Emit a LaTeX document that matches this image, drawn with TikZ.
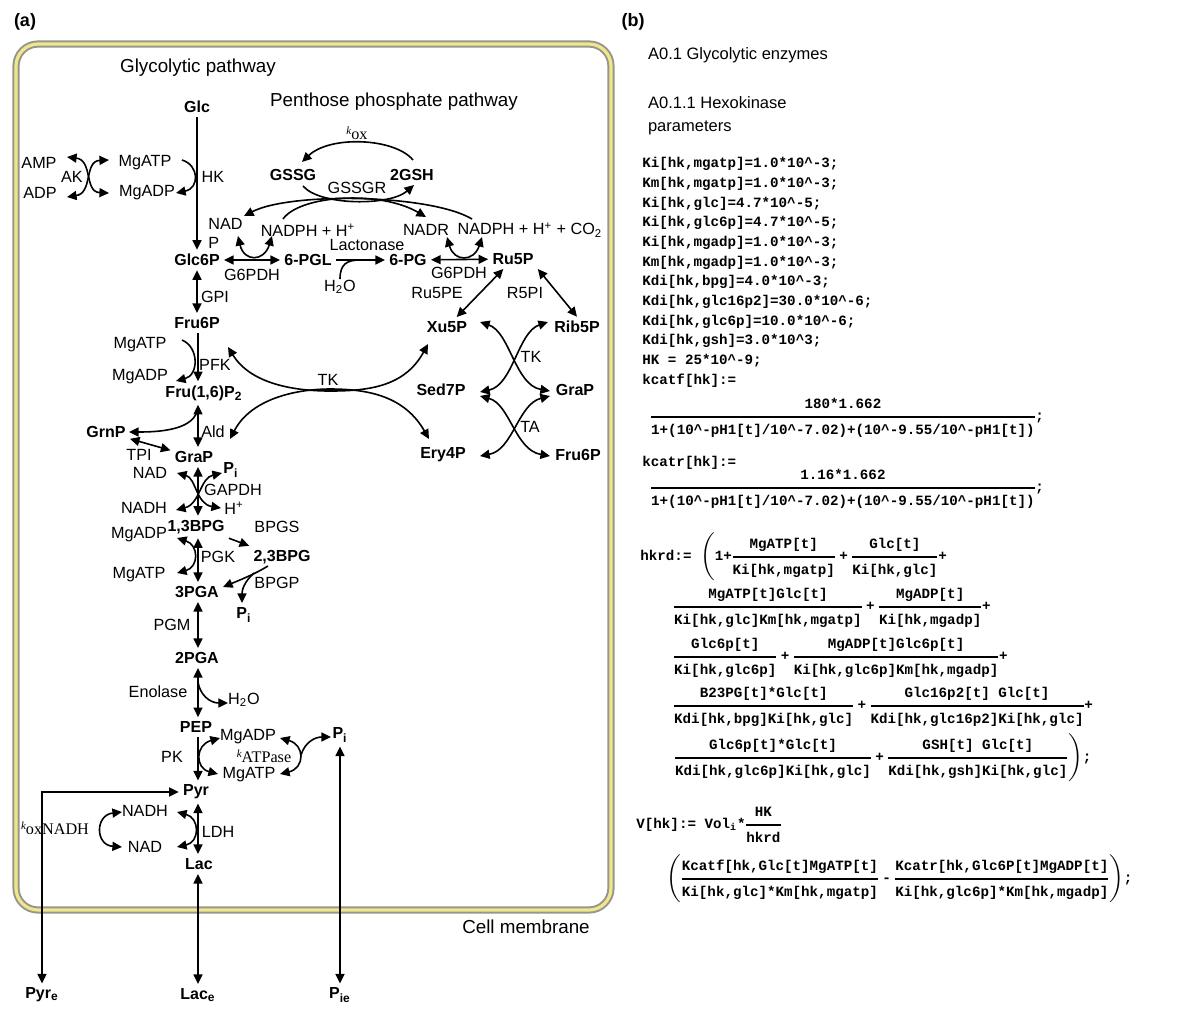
\documentclass[tikz,border=0pt]{standalone}
\usepackage{fontspec}
\setmainfont{Liberation Sans}
\newfontfamily\codefam{Liberation Mono}
\newfontfamily\tmsfam{Liberation Serif}
\usetikzlibrary{arrows.meta}

\definecolor{membgray}{RGB}{150,150,140}
\definecolor{membyel}{RGB}{240,230,140}

\newcommand\hdfont{\fontsize{9.4}{11}\selectfont}
\newcommand\lblfont{\fontsize{8.1}{9.5}\selectfont}
\newcommand\metfont{\bfseries\fontsize{8}{9.5}\selectfont}
\newcommand\codef{\codefam\bfseries\fontsize{7.1}{9}\selectfont}
\newcommand\kx{\raisebox{2.5pt}{\tmsfam\itshape\fontsize{5.5}{6}\selectfont k}}
\newcommand\hfrac[2]{{\mbox{\codef\rule[-2pt]{0pt}{0pt}#1}\above 0.6pt\mbox{\codef\rule{0pt}{6.6pt}#2}}}
\newcommand\cplus{\mathbin{\mbox{\codef +}}}
\newcommand\cminus{\mathbin{\mbox{\codef -}}}
\newcommand\crt{\textasciicircum}

\tikzset{
  met/.style={font=\metfont, inner sep=2pt},
  lbl/.style={font=\lblfont, inner sep=1pt},
  hd/.style={font=\hdfont},
  code/.style={font=\codef, anchor=west, inner sep=0pt},
  rx/.style={line width=0.8pt, -{Triangle[length=4.8pt,width=4.5pt]}},
  rxx/.style={line width=0.8pt, {Triangle[length=4.8pt,width=4.5pt]}-{Triangle[length=4.8pt,width=4.5pt]}},
  ln/.style={line width=0.8pt},
}

\begin{document}
\begin{tikzpicture}[x=0.5pt, y=-0.5pt]
\useasboundingbox (0,0) rectangle (1200,1014);
\nulldelimiterspace=0.4pt

% Cell membrane
\draw[line width=3.6pt, membgray, rounded corners=11pt] (16,44) rectangle (611,910);
\draw[line width=1.6pt, membyel, rounded corners=11pt] (16,44) rectangle (611,910);

% Panel titles
\node[font=\bfseries\fontsize{9}{10}\selectfont] (pa) at (25,22) {(a)};
\node[font=\bfseries\fontsize{9}{10}\selectfont] (pb) at (633,22) {(b)};
\node[hd] (glyco) at (198,68) {Glycolytic pathway};
\node[hd] (ppp) at (394,102) {Penthose phosphate pathway};
\node[hd] (cellm) at (526,927) {Cell membrane};

\coordinate (ax) at (198,0);

% Glycolysis, upper part
\node[met] (glc) at (197,107) {Glc};
\node[lbl] (amp) at (39,163) {AMP};
\node[lbl] (adp) at (40,193) {ADP};
\node[lbl] (ak) at (72,177) {AK};
\node[lbl] (mgatpA) at (145,163) {MgATP};
\node[lbl] (mgadpA) at (147,193) {MgADP};
\node[lbl] (hk) at (213,177) {HK};
\node[met] (g6p) at (197,260) {Glc6P};
\node[lbl] (gpi) at (215,297) {GPI};
\node[met] (f6p) at (197,323) {Fru6P};
\node[lbl] (mgatpB) at (140,345) {MgATP};
\node[lbl] (mgadpB) at (140,377) {MgADP};
\node[lbl] (pfk) at (215,365) {PFK};
\node[met] (fbp) at (204,393) {Fru(1,6)P\textsubscript{2}};
\node[met] (grnp) at (106,432) {GrnP};
\node[lbl] (ald) at (213,432) {Ald};
\node[lbl] (tpi) at (139,455) {TPI};
\node[met] (grap) at (194,457) {GraP};

% Penthose phosphate pathway
\node[met] (gssg) at (293,175) {GSSG};
\node[met] (gsh) at (412,175) {2GSH};
\node[lbl] (kox) at (357,133) {\kx{\tmsfam ox}};
\node[lbl] (gssgr) at (357,188) {GSSGR};
\node[lbl, align=left, anchor=west] (nadpA) at (206,233) {NAD\\P};
\node[lbl] (nadphA) at (308,230) {NADPH + H\textsuperscript{+}};
\node[lbl] (nadr) at (426,230) {NADR};
\node[lbl] (nadphB) at (530,230) {NADPH + H\textsuperscript{+} + CO\textsubscript{2}};
\node[met] (pgl) at (308,260) {6-PGL};
\node[met] (pg) at (408,260) {6-PG};
\node[met] (ru5p) at (513,259) {Ru5P};
\node[lbl] (g6pdhA) at (252,275) {G6PDH};
\node[lbl] (lacton) at (367,245) {Lactonase};
\node[lbl] (h2oA) at (340,287) {H\textsubscript{2}O};
\node[lbl] (g6pdhB) at (459,273) {G6PDH};
\node[lbl] (ru5pe) at (437,293) {Ru5PE};
\node[lbl] (r5pi) at (525,293) {R5PI};
\node[met] (xu5p) at (447,327) {Xu5P};
\node[met] (rib5p) at (577,327) {Rib5P};
\node[lbl] (tkA) at (328,380) {TK};
\node[met] (sed7p) at (441,390) {Sed7P};
\node[met] (grapB) at (575,390) {GraP};
\node[lbl] (tkB) at (531,357) {TK};
\node[lbl] (ta) at (530,427) {TA};
\node[met] (ery4p) at (443,455) {Ery4P};
\node[met] (f6pB) at (578,455) {Fru6P};

% Glycolysis, lower part
\node[met] (piA) at (231,470) {P\textsubscript{i}};
\node[lbl] (nadB) at (150,473) {NAD};
\node[lbl] (gapdh) at (233,490) {GAPDH};
\node[lbl] (nadhB) at (144,508) {NADH};
\node[lbl] (hplus) at (234,508) {H\textsuperscript{+}};
\node[met] (bpg13) at (196,527) {1,3BPG};
\node[lbl] (bpgs) at (277,527) {BPGS};
\node[lbl] (mgadpC) at (139,535) {MgADP};
\node[lbl] (pgk) at (218,557) {PGK};
\node[met] (bpg23) at (282,557) {2,3BPG};
\node[lbl] (mgatpC) at (139,575) {MgATP};
\node[met] (pga3) at (197,592) {3PGA};
\node[lbl] (bpgp) at (277,583) {BPGP};
\node[met] (piB) at (244,615) {P\textsubscript{i}};
\node[lbl] (pgm) at (172,625) {PGM};
\node[met] (pga2) at (197,658) {2PGA};
\node[lbl] (enol) at (158,692) {Enolase};
\node[lbl] (h2oB) at (244,700) {H\textsubscript{2}O};
\node[met] (pep) at (196,727) {PEP};
\node[lbl] (mgadpD) at (248,737) {MgADP};
\node[lbl, inner sep=0pt] (katp) at (264,756) {\kx{\tmsfam ATPase}};
\node[lbl] (mgatpD) at (249,775) {MgATP};
\node[met] (piC) at (340,735) {P\textsubscript{i}};
\node[lbl] (pk) at (172,757) {PK};
\node[met] (pyr) at (196,792) {Pyr};
\node[lbl] (nadhC) at (145,811) {NADH};
\node[lbl] (ldh) at (218,832) {LDH};
\node[lbl] (nadC) at (145,847) {NAD};
\node[met] (lac) at (199,864) {Lac};
\node[lbl] (koxn) at (55,828) {\kx{\tmsfam oxNADH}};
\node[met] (pyre) at (42,995) {Pyr\textsubscript{e}};
\node[met] (lace) at (198,995) {Lac\textsubscript{e}};
\node[met] (pie) at (340,995) {P\textsubscript{ie}};

% Main chain
\draw[rx] (glc) -- (g6p);
\draw[rxx] (g6p) -- (f6p);
\draw[rx] (f6p.south -| ax) -- (fbp.north -| ax);
\draw[rxx] (fbp.south -| ax) -- (grap.north -| ax);
\draw[rxx] (grnp) -- (grap);
\draw[rxx] (grap.south -| ax) -- (bpg13.north -| ax);
\draw[rxx] (bpg13.south -| ax) -- (pga3.north -| ax);
\draw[rx] (bpg13.south east) -- (bpg23.north west);
\draw[rxx] (pga3.south -| ax) -- (pga2.north -| ax);
\draw[rxx] (pga2.south -| ax) -- (pep.north -| ax);
\draw[rx] (pep.south -| ax) -- (pyr.north -| ax);
\draw[rxx] (pyr.south -| ax) -- (lac.north -| ax);
\draw[rxx] (lac.south -| ax) -- (lace.north -| ax);
\draw[rxx] (pyr.west) -| (pyre.north);
\draw[rxx] (piC) -- (pie);

% Penthose phosphate chain
\draw[rxx] (g6p) -- (pgl);
\draw[rx] (pgl) -- (pg);
\draw[rxx] (pg) -- (ru5p);
\draw[rxx] (ru5p) -- (xu5p);
\draw[rxx] (ru5p.south east) -- (rib5p.north);

% Cofactor arcs
\draw[rxx] (109,193) .. controls (84,192) and (93,160) .. (67,157);
\draw[rxx] (109,160) .. controls (84,161) and (93,193) .. (67,197);
\draw[rx] (182,160) .. controls (199,165) and (200,188) .. (176,193);
\draw[rx] (413,160) .. controls (395,138) and (330,135) .. (302,162);
\draw[rx] (303,186) .. controls (320,206) and (390,206) .. (414,185);
\draw[rx] (472,219) .. controls (430,194) and (290,192) .. (244,216);
\draw[rx] (283,219) .. controls (300,195) and (380,190) .. (426,217);
\draw[rxx] (238,236) .. controls (244,262) and (264,262) .. (272,236);
\draw[rxx] (447,237) .. controls (454,262) and (474,262) .. (482,237);
\draw[ln] (340,279) .. controls (340,264) and (347,260) .. (360,260);
\draw[rx] (182,340) .. controls (199,347) and (199,375) .. (176,381);

% Transketolase / transaldolase
\draw[rxx] (228,347) .. controls (252,386) and (300,391) .. (330,391) .. controls (370,391) and (405,386) .. (428,344);
\draw[rxx] (230,439) .. controls (252,397) and (300,389) .. (330,389) .. controls (370,389) and (405,397) .. (429,439);
\draw[rxx] (480,322) .. controls (510,332) and (515,385) .. (550,391);
\draw[rxx] (548,322) .. controls (518,332) and (513,385) .. (480,392);
\draw[rxx] (480,396) .. controls (510,404) and (515,450) .. (550,456);
\draw[rxx] (550,396) .. controls (518,404) and (513,450) .. (480,456);

\draw[rx] (198,407) .. controls (196,430) and (160,432) .. (129,432);
\draw[rxx] (177,473) .. controls (196,478) and (196,504) .. (221,508);
\draw[rxx] (222,473) .. controls (200,478) and (200,504) .. (176,510);
\draw[rxx] (177,538) .. controls (199,545) and (199,567) .. (177,573);
\draw[rx] (268,566) .. controls (255,574) and (240,580) .. (223,587);
\draw[rx] (254,573) .. controls (244,582) and (242,590) .. (242,603);
\draw[rx] (198,682) .. controls (200,695) and (210,703) .. (228,703);
\draw[rxx] (220,738) .. controls (195,745) and (195,768) .. (218,774);
\draw[rxx] (280,738) .. controls (305,745) and (305,768) .. (280,774);
\draw[rx] (301,755) .. controls (305,742) and (315,737) .. (331,737);
\draw[rxx] (177,812) .. controls (200,818) and (200,842) .. (177,847);
\draw[rxx] (122,812) .. controls (95,815) and (95,845) .. (122,847);

% (b) hexokinase rate law
\node[anchor=west, font=\fontsize{8.25}{10}\selectfont] (sec1) at (641,55) {A0.1 Glycolytic enzymes};
\node[anchor=west, align=left, font=\fontsize{8.25}{11.5}\selectfont] (sec2) at (641,116) {A0.1.1 Hexokinase\\parameters};

\node[code] (c1) at (642,164) {Ki[hk,mgatp]=1.0*10\crt-3;};
\node[code] (c2) at (642,183.7) {Km[hk,mgatp]=1.0*10\crt-3;};
\node[code] (c3) at (642,203.4) {Ki[hk,glc]=4.7*10\crt-5;};
\node[code] (c4) at (642,223.1) {Ki[hk,glc6p]=4.7*10\crt-5;};
\node[code] (c5) at (642,242.8) {Ki[hk,mgadp]=1.0*10\crt-3;};
\node[code] (c6) at (642,262.5) {Km[hk,mgadp]=1.0*10\crt-3;};
\node[code] (c7) at (642,282.2) {Kdi[hk,bpg]=4.0*10\crt-3;};
\node[code] (c8) at (642,301.9) {Kdi[hk,glc16p2]=30.0*10\crt-6;};
\node[code] (c9) at (642,321.6) {Kdi[hk,glc6p]=10.0*10\crt-6;};
\node[code] (c10) at (642,341.3) {Kdi[hk,gsh]=3.0*10\crt3;};
\node[code] (c11) at (642,361) {HK = 25*10\crt-9;};
\node[code] (c12) at (642,380.7) {kcatf[hk]:=};
\node[code, anchor=base west] (kf) at (650,420.5) {$\displaystyle\hfrac{180*1.662}{1+(10\crt-pH1[t]/10\crt-7.02)+(10\crt-9.55/10\crt-pH1[t])}$;};
\node[code] (c13) at (642,463) {kcatr[hk]:=};
\node[code, anchor=base west] (kr) at (650,491.5) {$\displaystyle\hfrac{1.16*1.662}{1+(10\crt-pH1[t]/10\crt-7.02)+(10\crt-9.55/10\crt-pH1[t])}$;};

\node[code, anchor=base west] (row1) at (640,560.5) {hkrd:= $\displaystyle\left(\mbox{\codef 1+}\hfrac{MgATP[t]}{Ki[hk,mgatp]}\cplus\hfrac{Glc[t]}{Ki[hk,glc]}\cplus\right.$};
\node[code, anchor=base west] (row2) at (673,610.5) {$\displaystyle\hfrac{MgATP[t]Glc[t]}{Ki[hk,glc]Km[hk,mgatp]}\cplus\hfrac{MgADP[t]}{Ki[hk,mgadp]}\cplus$};
\node[code, anchor=base west] (row3) at (673,660.5) {$\displaystyle\hfrac{Glc6p[t]}{Ki[hk,glc6p]}\cplus\hfrac{MgADP[t]Glc6p[t]}{Ki[hk,glc6p]Km[hk,mgadp]}\cplus$};
\node[code, anchor=base west] (row4) at (673,709.5) {$\displaystyle\hfrac{B23PG[t]*Glc[t]}{Kdi[hk,bpg]Ki[hk,glc]}\cplus\hfrac{Glc16p2[t] Glc[t]}{Kdi[hk,glc16p2]Ki[hk,glc]}\cplus$};
\node[code, anchor=base west] (row5) at (673,761.5) {$\displaystyle\left.\hfrac{Glc6p[t]*Glc[t]}{Kdi[hk,glc6p]Ki[hk,glc]}\cplus\hfrac{GSH[t] Glc[t]}{Kdi[hk,gsh]Ki[hk,glc]}\right)$;};

\node[code, anchor=base west] (vrow) at (636,828.5) {V[hk]:= Vol\textsubscript{i}*$\displaystyle\hfrac{HK}{hkrd}$};
\node[code, anchor=base west] (krow) at (666,882.5) {$\displaystyle\left(\hfrac{Kcatf[hk,Glc[t]MgATP[t]}{Ki[hk,glc]*Km[hk,mgatp]}\cminus\hfrac{Kcatr[hk,Glc6P[t]MgADP[t]}{Ki[hk,glc6p]*Km[hk,mgadp]}\right)$;};

\end{tikzpicture}
\end{document}
